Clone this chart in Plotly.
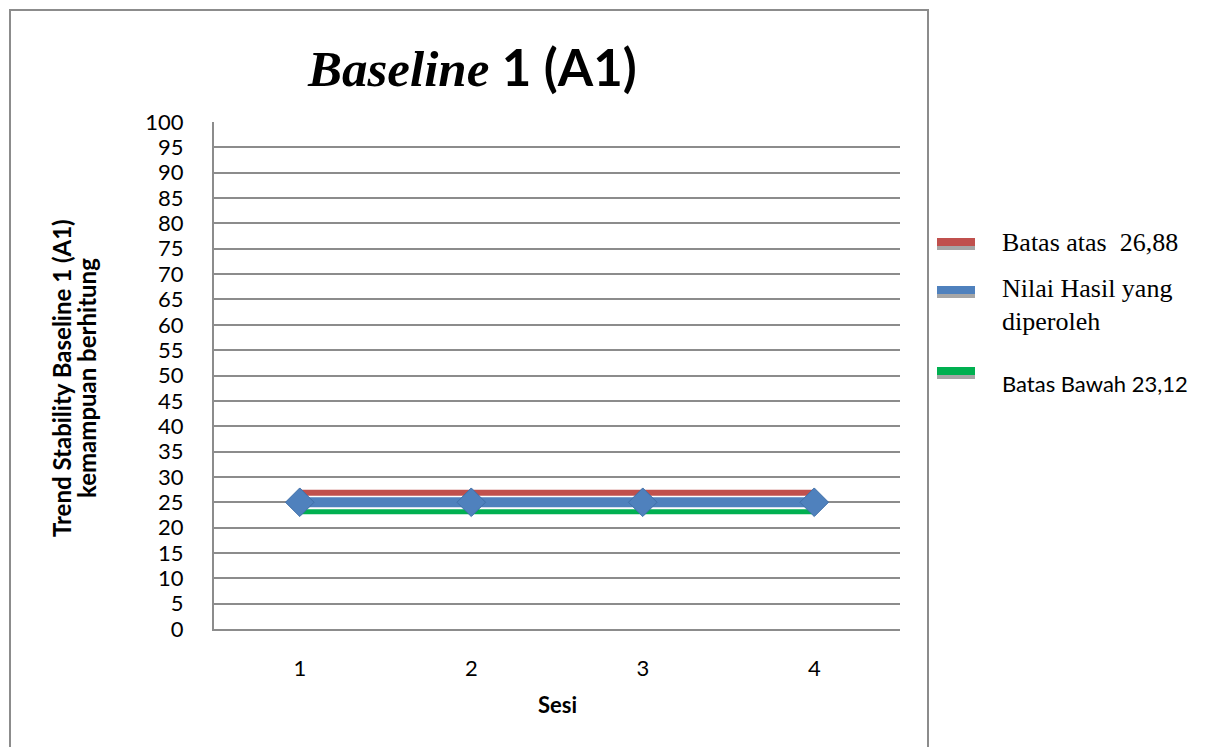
import plotly.graph_objects as go

# Sessions and measured values
sesi = [1, 2, 3, 4]
nilai_hasil = [25, 25, 25, 25]
batas_atas = [26.88, 26.88, 26.88, 26.88]
batas_bawah = [23.12, 23.12, 23.12, 23.12]
y_ticks = list(range(0, 101, 5))

RED = "#C0504D"
BLUE = "#4F81BD"
GREEN = "#00B050"
GRID = "#8C8C8C"
SANS = "Lato, 'Open Sans', sans-serif"
SERIF = "'Liberation Serif', 'DejaVu Serif', serif"

W, H = 1220, 747
L, R, T, B = 214, 320, 122, 118
PW, PH = W - L - R, H - T - B


def px(x):
    return (x - L) / PW


def py(y):
    return (H - B - y) / PH


fig = go.Figure()

fig.add_trace(go.Scatter(
    x=sesi, y=batas_atas, mode="lines", name="Batas atas  26,88",
    line=dict(color=RED, width=6), showlegend=False, hoverinfo="skip"))
fig.add_trace(go.Scatter(
    x=sesi, y=batas_bawah, mode="lines", name="Batas Bawah 23,12",
    line=dict(color=GREEN, width=5), showlegend=False, hoverinfo="skip"))
fig.add_trace(go.Scatter(
    x=sesi, y=nilai_hasil, mode="lines+markers", name="Nilai Hasil yang diperoleh",
    line=dict(color=BLUE, width=10),
    marker=dict(symbol="diamond", size=22, color=BLUE,
                line=dict(color="#3F6FA8", width=1)),
    showlegend=False))

fig.update_layout(
    width=W, height=H,
    margin=dict(l=L, r=R, t=T, b=B),
    paper_bgcolor="white", plot_bgcolor="white",
    showlegend=False,
    font=dict(family=SANS, color="black"),
)

fig.update_xaxes(
    range=[0.5, 4.5], tickvals=sesi, ticktext=[str(s) for s in sesi],
    showgrid=False, zeroline=False,
    showline=True, linecolor=GRID, linewidth=2,
    ticks="", tickfont=dict(family=SANS, size=22),
    ticklabelstandoff=19,
)
fig.update_yaxes(
    range=[0, 100], tickvals=y_ticks,
    showgrid=True, gridcolor=GRID, gridwidth=1.5,
    zeroline=False,
    showline=True, linecolor=GRID, linewidth=2,
    ticks="", tickfont=dict(family=SANS, size=22),
    ticklabelstandoff=24,
)

# Outer chart frame
fig.add_shape(type="rect", xref="paper", yref="paper",
              x0=px(10), x1=px(928), y0=py(760), y1=py(10),
              line=dict(color=GRID, width=2), fillcolor="rgba(0,0,0,0)",
              layer="below")

annotations = []

# Title
annotations.append(dict(
    xref="paper", yref="paper", x=px(472), y=py(67),
    xanchor="center", yanchor="middle", showarrow=False,
    text=('<span style="font-family:Liberation Serif"><b><i>Baseline</i></b></span>'
          '<b> 1 (A1)</b>'),
    font=dict(family=SANS, size=51, color="black")))

# Y-axis title, two lines
annotations.append(dict(
    xref="paper", yref="paper", x=px(61), y=py(378),
    xanchor="center", yanchor="middle", showarrow=False, textangle=-90,
    text="<b>Trend Stability Baseline 1 (A1)</b>",
    font=dict(family=SANS, size=24)))
annotations.append(dict(
    xref="paper", yref="paper", x=px(86), y=py(378),
    xanchor="center", yanchor="middle", showarrow=False, textangle=-90,
    text="<b>kemampuan berhitung</b>",
    font=dict(family=SANS, size=24)))

# X-axis title
annotations.append(dict(
    xref="paper", yref="paper", x=px(557), y=py(704),
    xanchor="center", yanchor="middle", showarrow=False,
    text="<b>Sesi</b>", font=dict(family=SANS, size=22)))

# Legend
legend_items = [
    (RED, 238, 246, [("Batas atas  26,88", 242, SERIF, 26)]),
    (BLUE, 286, 294, [("Nilai Hasil yang", 288, SERIF, 26),
                      ("diperoleh", 321, SERIF, 26)]),
    (GREEN, 367, 375, [("Batas Bawah 23,12", 383, SANS, 22)]),
]
for color, y0, y1, texts in legend_items:
    fig.add_shape(type="rect", xref="paper", yref="paper",
                  x0=px(937), x1=px(975), y0=py(y1 + 4), y1=py(y1),
                  line=dict(width=0), fillcolor="#A6A6A6")
    fig.add_shape(type="rect", xref="paper", yref="paper",
                  x0=px(937), x1=px(975), y0=py(y1), y1=py(y0),
                  line=dict(width=0), fillcolor=color)
    for txt, ty, fam, fs in texts:
        annotations.append(dict(
            xref="paper", yref="paper", x=px(1000), y=py(ty),
            xanchor="left", yanchor="middle", showarrow=False,
            text=txt, font=dict(family=fam, size=fs, color="black")))

fig.update_layout(annotations=annotations)

fig.write_html("out.html")
